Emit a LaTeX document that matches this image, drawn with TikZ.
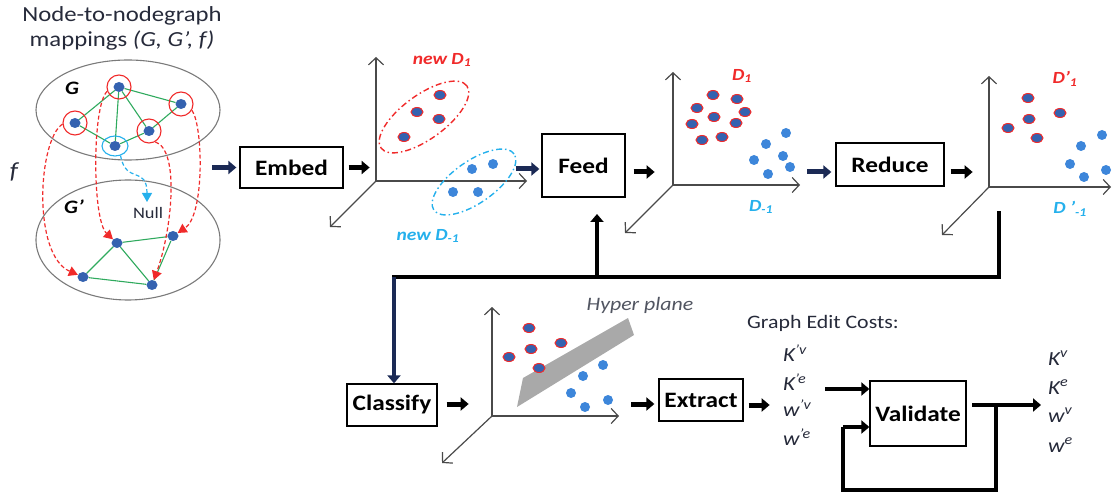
\documentclass[tikz,border=0pt]{standalone}
\usepackage{fontspec}
\setmainfont{Carlito}[FakeStretch=1.15]
\usetikzlibrary{arrows.meta,shapes.geometric,calc}

\definecolor{navy}{HTML}{1B2A55}
\definecolor{dotblue}{HTML}{3462B0}
\definecolor{ltblue}{HTML}{3D86DA}
\definecolor{redc}{HTML}{F02A2A}
\definecolor{cyanc}{HTML}{25B0EC}
\definecolor{greenc}{HTML}{2FAA5E}
\definecolor{axisg}{HTML}{4A4A4A}
\definecolor{planeg}{HTML}{A9A9A9}
\definecolor{ringgray}{HTML}{7A7A7A}
\definecolor{inkc}{HTML}{262A3A}

\newcommand\boxfont{\fontsize{22}{25}\selectfont\bfseries}
\newcommand\setfont{\fontsize{17}{20}\selectfont\bfseries\itshape}
\newcommand\costfont{\fontsize{20}{24}\selectfont\itshape}

\begin{document}
\begin{tikzpicture}[x=1pt,y=-1pt,
  every node/.style={inner sep=0pt},
  box/.style={draw=black, line width=1.3pt, fill=white, font=\boxfont, text=black},
  blk/.style={draw=black, line width=5pt, -{Triangle[length=8pt,width=13pt]}},
  blkn/.style={blk, draw=navy, fill=navy},
  wire/.style={draw=black, line width=4.5pt},
  axis/.style={draw=axisg, line width=1.2pt, -{Straight Barb[length=7pt,width=15pt]}},
  gdot/.style={ellipse, fill=dotblue, minimum width=11pt, minimum height=10pt},
  reddot/.style={ellipse, draw=redc, fill=dotblue, line width=1pt, minimum width=12pt, minimum height=9pt},
  bluedot/.style={ellipse, fill=ltblue, minimum width=10pt, minimum height=10pt},
  ring/.style={circle, draw=redc, line width=1.1pt, minimum size=24pt},
  gedge/.style={draw=greenc, line width=1.1pt},
  mapr/.style={draw=redc, line width=1.2pt, dash pattern=on 4pt off 2.5pt, -{Triangle[length=9pt,width=10pt]}},
  mapc/.style={mapr, draw=cyanc},
  dashdotred/.style={draw=redc, line width=1.4pt, dash pattern=on 6pt off 3pt on 1.5pt off 3pt},
  dashdotcyan/.style={dashdotred, draw=cyanc},
  cost/.style={font=\costfont, text=inkc, anchor=west}
]
\useasboundingbox (0,0) rectangle (1113,494);

% ---------- node-to-node graph mapping ----------
\node[font=\fontsize{21.5}{25}\selectfont, align=center, text=inkc] (title) at (122,28)
  {Node-to-nodegraph\\mappings \textit{(G, G’, f)}};

\draw[ringgray, line width=1.1pt] (128,110) ellipse [x radius=92pt, y radius=50pt];
\draw[ringgray, line width=1.1pt] (128,240) ellipse [x radius=92pt, y radius=60pt];

\node[font=\fontsize{19}{22}\selectfont\bfseries\itshape] (glab) at (72,88) {G};
\node[font=\fontsize{19}{22}\selectfont\bfseries\itshape] (gplab) at (74,207) {G’};
\node[font=\fontsize{23}{27}\selectfont\itshape, text=inkc] (flab) at (14,172) {f};

% graph G
\node[gdot] (a) at (119,87) {};
\node[gdot] (b) at (181,104) {};
\node[gdot] (c) at (75,123) {};
\node[gdot] (d) at (149,131) {};
\node[gdot] (e) at (115,146) {};
\draw[gedge] (c) -- (a) (a) -- (b) (a) -- (e) (a) -- (d) (c) -- (e) (e) -- (d) (d) -- (b);

% graph G'
\node[gdot] (p) at (117,243) {};
\node[gdot] (q) at (173,236) {};
\node[gdot] (r) at (83,277) {};
\node[gdot] (s) at (152,285) {};
\draw[gedge] (p) -- (q) (p) -- (r) (p) -- (s) (q) -- (s) (r) -- (s);

% rings marking mapped / deleted nodes
\node[ring] (ra) at (a) {};
\node[ring] (rb) at (b) {};
\node[ring] (rc) at (c) {};
\node[ring] (rd) at (d) {};
\node[ellipse, draw=cyanc, line width=1.1pt, minimum width=26pt, minimum height=20pt] (re) at (e) {};

% mapping f
\draw[mapr] (rc.185) .. controls (38,140) and (32,255) .. (r);
\draw[mapr] (ra.200) .. controls (92,105) and (92,220) .. (p);
\draw[mapr] (rd.300) .. controls (180,150) and (172,230) .. (s);
\draw[mapr] (rb.330) .. controls (203,125) and (205,215) .. (q);
\node[font=\fontsize{16}{19}\selectfont, text=inkc] (null) at (148,213) {Null};
\coordinate (nulltip) at (147,202);
\draw[mapc] (re.300) .. controls (126,185) and (147,165) .. (nulltip);

% ---------- processing boxes ----------
\node[box, minimum width=103pt, minimum height=41pt] (embed) at (291.5,167.5) {Embed};
\node[box, minimum width=83pt, minimum height=63pt] (feed) at (583.5,165.5) {Feed};
\node[box, minimum width=108pt, minimum height=43pt] (reduce) at (890,164.5) {Reduce};
\node[box, minimum width=90pt, minimum height=42pt] (classify) at (392,405) {Classify};
\node[box, minimum width=84pt, minimum height=42pt] (extract) at (701,400) {Extract};
\node[box, minimum width=96pt, minimum height=65pt] (validate) at (918,413.5) {Validate};

% ---------- embedding space ----------
\coordinate (o1) at (376,181);
\draw[axis] (o1) -- (376,57);
\draw[axis] (o1) -- (527,181);
\draw[axis] (o1) -- (330,227);
\draw[dashdotred, rotate around={36:(424,117)}] (424,117) ellipse [x radius=53pt, y radius=22pt];
\draw[dashdotcyan, rotate around={35:(474,182)}] (474,182) ellipse [x radius=49pt, y radius=21pt];
\foreach \x/\y in {440/95, 417/112, 439/119, 404/137} \node[reddot] at (\x,\y) {};
\foreach \x/\y in {472/169, 493/164, 453/192, 478/192} \node[bluedot] at (\x,\y) {};
\node[font=\setfont, text=redc] (nd1) at (442,60) {new D\textsubscript{1}};
\node[font=\setfont, text=cyanc] (ndm1) at (428,236) {new D\textsubscript{-1}};

% ---------- fed space ----------
\coordinate (o2) at (673,185);
\draw[axis] (o2) -- (673,72);
\draw[axis] (o2) -- (800,185);
\draw[axis] (o2) -- (625,233);
\foreach \x/\y in {713/95, 737/99, 697/108, 745/112, 714/117, 692/124, 736/123, 702/140, 722/137}
  \node[reddot] at (\x,\y) {};
\foreach \x/\y in {786/133, 766/144, 754/160, 783/156, 790/167, 768/174}
  \node[bluedot] at (\x,\y) {};
\node[font=\setfont, text=redc] (d1) at (742,76) {D\textsubscript{1}};
\node[font=\setfont, text=cyanc] (dm1) at (761,207) {D\textsubscript{-1}};

% ---------- reduced space ----------
\coordinate (o3) at (989,187);
\draw[axis] (o3) -- (989,76);
\draw[axis] (o3) -- (1111,187);
\draw[axis] (o3) -- (942,235);
\foreach \x/\y in {1028/98, 1060/113, 1029/119, 1008/128, 1037/138}
  \node[reddot] at (\x,\y) {};
\foreach \x/\y in {1102/135, 1081/146, 1070/164, 1106/170, 1084/177}
  \node[bluedot] at (\x,\y) {};
\node[font=\setfont, text=redc] (dp1) at (1065,79) {D’\textsubscript{1}};
\node[font=\setfont, text=cyanc] (dpm1) at (1070,209) {D ’\textsubscript{-1}};

% ---------- classification space ----------
\coordinate (o4) at (492,416);
\draw[axis] (o4) -- (492,307);
\draw[axis] (o4) -- (619,416);
\draw[axis] (o4) -- (442,463);
\fill[planeg] (517,407) -- (523,378) -- (628,318) -- (634,335) -- cycle;
\node[font=\fontsize{19}{22}\selectfont\itshape, text=inkc!80] (hyp) at (640,305) {Hyper plane};
\foreach \x/\y in {529/328, 561/343, 531/349, 509/357, 539/368}
  \node[reddot] at (\x,\y) {};
\foreach \x/\y in {603/365, 583/376, 571/393, 608/400, 585/407}
  \node[bluedot] at (\x,\y) {};

% ---------- graph edit costs ----------
\node[font=\fontsize{19}{23}\selectfont, text=inkc] (gec) at (823,323) {Graph Edit Costs:};
\node[cost] (kv1) at (783,353) {K\textsuperscript{’v}};
\node[cost] (ke1) at (783,382) {K\textsuperscript{’e}};
\node[cost] (wv1) at (783,408) {w\textsuperscript{’v}};
\node[cost] (we1) at (783,437) {w\textsuperscript{’e}};
\node[cost] (kv) at (1048,358) {K\textsuperscript{v}};
\node[cost] (ke) at (1048,387) {K\textsuperscript{e}};
\node[cost] (wv) at (1048,415) {w\textsuperscript{v}};
\node[cost] (we) at (1048,445) {w\textsuperscript{e}};

% ---------- flow arrows ----------
\draw[blkn] ([xshift=-27pt]embed.west) -- ([xshift=-3pt]embed.west);
\draw[blk] ([xshift=5pt]embed.east) -- ++(21,0);
\draw[blkn] ([shift={(-25pt,-3.5pt)}]feed.west) -- ([shift={(-2pt,-3.5pt)}]feed.west);
\draw[blk] ([shift={(8pt,-6.5pt)}]feed.east) -- ++(21,0);
\draw[blkn] ([shift={(-28pt,-7.5pt)}]reduce.west) -- ([shift={(-4pt,-7.5pt)}]reduce.west);
\draw[blk] ([shift={(6pt,-7.5pt)}]reduce.east) -- ++(22,0);
\draw[blk] ([shift={(9pt,1pt)}]classify.east) -- ++(22,0);
\draw[blk] ([shift={(-27pt,-4pt)}]extract.west) -- ([shift={(-4pt,-4pt)}]extract.west);
\draw[blk] ([shift={(5pt,-5pt)}]extract.east) -- ++(21,0);

% feedback from the reduced space
\coordinate (rt) at (999,213);
\coordinate (rc2) at (999,277);
\coordinate (fj) at (597,277);
\coordinate (lc) at (394,277);
\coordinate (fup) at (597,214);
\draw[wire, line cap=rect] (rt) -- (rc2) -- (lc);
\draw[blk, line width=4.5pt] (fj) -- (fup);
\draw[blkn, line width=4.5pt] (lc) -- (classify.north -| lc);

% validation loop
\coordinate (kin) at (825,389);
\coordinate (vout) at (972,405);
\coordinate (vsplit) at (996,405);
\coordinate (vend) at (1041,405);
\coordinate (lb) at (996,490);
\coordinate (ll) at (843,490);
\coordinate (lu) at (843,427);
\draw[blk, line width=4.5pt] (kin) -- (validate.west |- kin);
\draw[blk, line width=4.5pt] (vout) -- (vend);
\draw[wire, line width=4pt] (vsplit) -- (lb) -- (ll) -- (lu);
\draw[blk, line width=4pt] (lu) -- (validate.west |- lu);

\end{tikzpicture}
\end{document}
